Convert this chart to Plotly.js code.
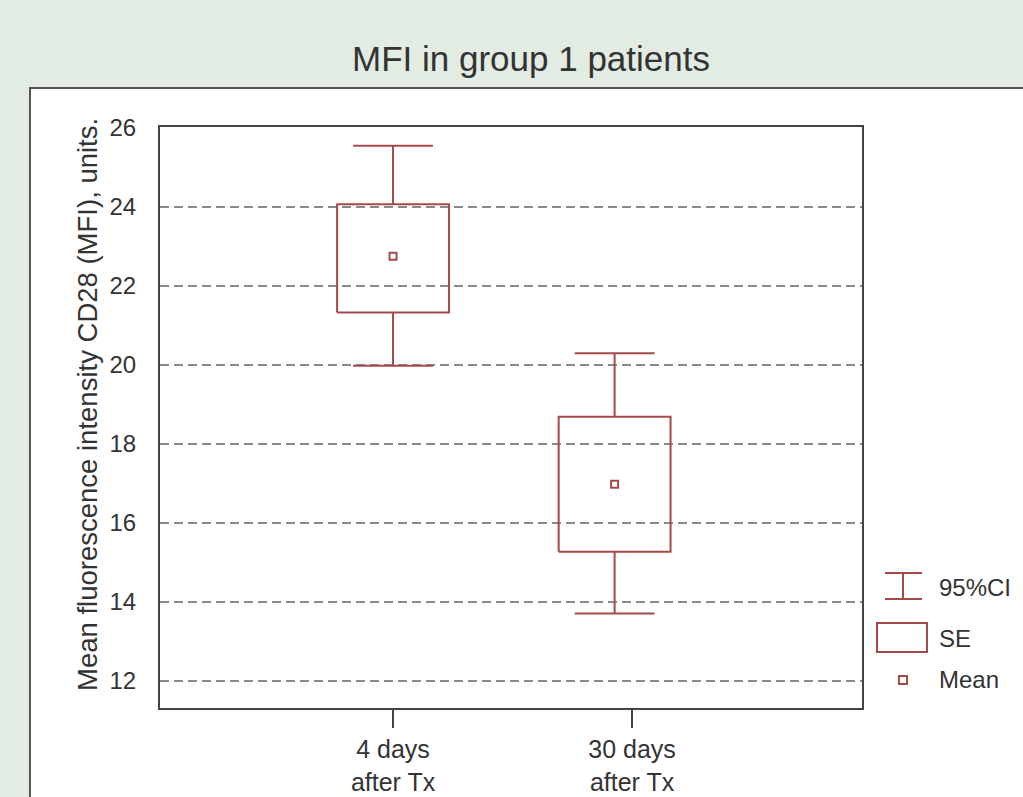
<!DOCTYPE html>
<html><head><meta charset="utf-8">
<script src="https://cdn.plot.ly/plotly-3.0.1.min.js"></script>
<style>html,body{margin:0;padding:0;background:#e3ece3;} #chart{width:1023px;height:797px;}</style>
</head><body><div id="chart"></div>
<script>
// ---- data ----
const categories = ['4 days<br>after Tx', '30 days<br>after Tx'];
const meanValues = [22.75, 16.98];
const seLow = [21.33, 15.27];
const seHigh = [24.07, 18.69];
const ciLow = [19.98, 13.71];
const ciHigh = [25.55, 20.30];
const yTicks = [12, 14, 16, 18, 20, 22, 24, 26];
const legendLabels = ['95%CI', 'SE', 'Mean'];

// ---- layout constants ----
const W = 1023, H = 797;
const M = {l: 160, r: 161, t: 127, b: 89};
const PW = W - M.l - M.r, PH = H - M.t - M.b;
const tickPos = [1, 2];
const groupX = [1, 1.927];
const boxHalf = 0.234, capHalf = 0.167;
const red = '#a54a4a';
const txt = '#333333';
const FONT = 'Liberation Sans, Arial, Helvetica, sans-serif';

const px = x => (x - M.l) / PW;
const py = y => (H - M.b - y) / PH;

const traces = [];
categories.forEach((c, i) => {
  const x = groupX[i];
  const xs = [], ys = [];
  // SE box
  xs.push(x - boxHalf, x + boxHalf, x + boxHalf, x - boxHalf, x - boxHalf, null);
  ys.push(seLow[i], seLow[i], seHigh[i], seHigh[i], seLow[i], null);
  // upper whisker + cap
  xs.push(x, x, null, x - capHalf, x + capHalf, null);
  ys.push(seHigh[i], ciHigh[i], null, ciHigh[i], ciHigh[i], null);
  // lower whisker + cap
  xs.push(x, x, null, x - capHalf, x + capHalf, null);
  ys.push(seLow[i], ciLow[i], null, ciLow[i], ciLow[i], null);
  traces.push({x: xs, y: ys, mode: 'lines', type: 'scatter', line: {color: red, width: 2}, hoverinfo: 'skip', showlegend: false});
});
traces.push({
  x: groupX, y: meanValues, mode: 'markers', type: 'scatter', showlegend: false,
  marker: {symbol: 'square', size: 7, color: 'white', line: {color: red, width: 2}}
});

const shapes = [
  // white panel
  {type: 'rect', xref: 'paper', yref: 'paper', x0: px(30), x1: 1.4, y0: -0.4, y1: py(88),
   fillcolor: 'white', line: {color: '#555', width: 2}, layer: 'below'},
  // legend: 95% CI I-beam
  {type: 'line', xref: 'paper', yref: 'paper', x0: px(903), x1: px(903), y0: py(573), y1: py(599), line: {color: red, width: 2}},
  {type: 'line', xref: 'paper', yref: 'paper', x0: px(885), x1: px(922), y0: py(573), y1: py(573), line: {color: red, width: 2}},
  {type: 'line', xref: 'paper', yref: 'paper', x0: px(885), x1: px(922), y0: py(599), y1: py(599), line: {color: red, width: 2}},
  // legend: SE box
  {type: 'rect', xref: 'paper', yref: 'paper', x0: px(877), x1: px(927), y0: py(652), y1: py(623), line: {color: red, width: 2}},
  // legend: mean marker
  {type: 'rect', xref: 'paper', yref: 'paper', x0: px(899), x1: px(907), y0: py(684), y1: py(676), fillcolor: 'white', line: {color: red, width: 2}}
];

const legendY = [587, 638, 679];
const annotations = legendLabels.map((t, i) => ({
  text: t, xref: 'paper', yref: 'paper', x: px(937), y: py(legendY[i]), xanchor: 'left', yanchor: 'middle',
  showarrow: false, font: {family: FONT, size: 24, color: txt}
}));
annotations.push({
  text: 'Mean fluorescence intensity CD28 (MFI), units.', textangle: -90,
  xref: 'paper', yref: 'paper', x: px(87), y: py(405), xanchor: 'center', yanchor: 'middle',
  showarrow: false, font: {family: FONT, size: 27.5, color: txt}
});

const layout = {
  width: W, height: H,
  margin: M,
  paper_bgcolor: '#e3ece3',
  plot_bgcolor: 'white',
  showlegend: false,
  title: {text: 'MFI in group 1 patients', xref: 'paper', x: px(531), xanchor: 'center',
          yref: 'container', y: 1 - 59 / H, yanchor: 'middle',
          font: {family: FONT, size: 35, color: txt}},
  xaxis: {
    range: [0.025, 2.962], tickvals: tickPos, ticktext: categories,
    showgrid: false, zeroline: false,
    showline: true, mirror: true, linecolor: '#444', linewidth: 2,
    ticks: 'outside', ticklen: 18, tickwidth: 2, tickcolor: '#444',
    tickfont: {family: FONT, size: 25, color: txt}
  },
  yaxis: {
    range: [11.316, 26.025], tickvals: yTicks,
    showgrid: true, gridcolor: '#8a8a8a', gridwidth: 2, griddash: '9px,5px',
    zeroline: false,
    showline: true, mirror: true, linecolor: '#444', linewidth: 2,
    ticks: 'outside', ticklen: 17, tickcolor: 'rgba(0,0,0,0)',
    tickfont: {family: FONT, size: 24, color: txt}
  },
  shapes: shapes,
  annotations: annotations
};

Plotly.newPlot('chart', traces, layout, {displayModeBar: false, staticPlot: true});
</script>
</body></html>
